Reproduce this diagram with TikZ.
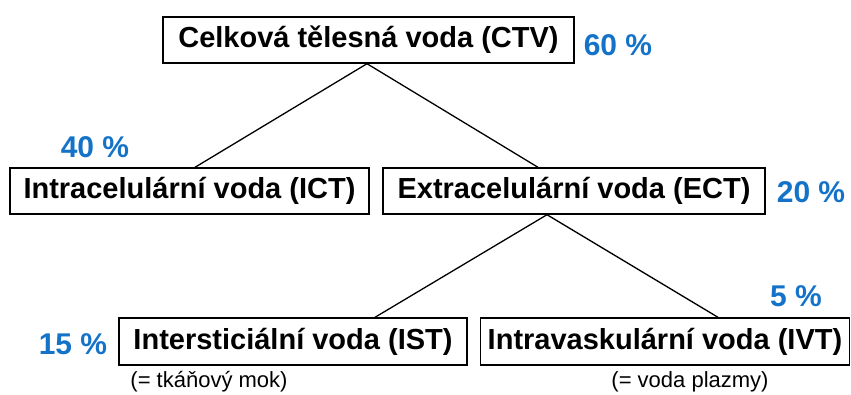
\documentclass[tikz,border=0pt]{standalone}
\usepackage{fontspec}
\setmainfont{Liberation Sans}
\definecolor{pctblue}{RGB}{20,115,200}
\begin{document}
\begin{tikzpicture}[x=1pt,y=-1pt,
  box/.style={draw=black,line width=1.4pt,inner sep=0pt,minimum height=46pt,
    font=\fontsize{29}{31}\selectfont\bfseries,text=black},
  pct/.style={font=\fontsize{30}{32}\selectfont\bfseries,text=pctblue,inner sep=0pt},
  note/.style={font=\fontsize{22}{24}\selectfont,inner sep=0pt},
  link/.style={line width=1.3pt}]
\useasboundingbox (0,0) rectangle (851,394);
% boxes of the water compartments
\node[box,minimum width=411pt] (ctv) at (368.5,40) {Celková tělesná voda (CTV)};
\node[box,minimum width=359pt] (ict) at (189.5,191) {Intracelulární voda (ICT)};
\node[box,minimum width=382pt] (ect) at (574,191) {Extracelulární voda (ECT)};
\node[box,minimum width=348pt,minimum height=47pt] (ist) at (293,341.5) {Intersticiální voda (IST)};
\node[box,minimum width=369pt,minimum height=47pt] (ivt) at (665,341.5) {Intravaskulární voda (IVT)};
% percentages
\node[pct] (p60) at (618,45) {60 \%};
\node[pct] (p40) at (95,147) {40 \%};
\node[pct] (p20) at (811,192) {20 \%};
\node[pct] (p5) at (796,296) {5 \%};
\node[pct] (p15) at (73,344) {15 \%};
% notes below the lower boxes
\node[note] (n1) at (209,382) {(= tkáňový mok)};
\node[note] (n2) at (690,382) {(= voda plazmy)};
% branching lines
\draw[link] ([xshift=-1.5pt]ctv.south) -- ([xshift=5.5pt]ict.north);
\draw[link] ([xshift=-1.5pt]ctv.south) -- ([xshift=-36pt]ect.north);
\draw[link] ([xshift=-27pt]ect.south) -- ([xshift=82pt]ist.north);
\draw[link] ([xshift=-27pt]ect.south) -- ([xshift=53pt]ivt.north);
\end{tikzpicture}
\end{document}
